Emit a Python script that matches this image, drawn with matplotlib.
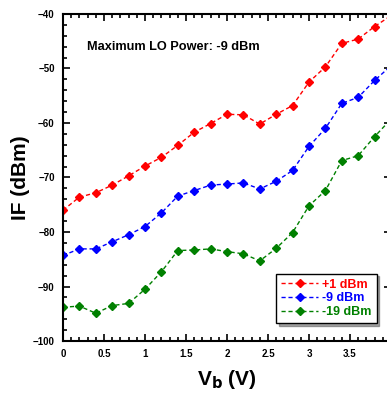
import matplotlib.pyplot as plt
import numpy as np
from matplotlib.ticker import MultipleLocator, FixedLocator, FormatStrFormatter

plt.rcParams['font.family'] = ['Liberation Sans', 'DejaVu Sans']

# bias voltage (V)
vb = [0.0, 0.2, 0.4, 0.6, 0.8, 1.0, 1.2, 1.4, 1.6, 1.8, 2.0,
      2.2, 2.4, 2.6, 2.8, 3.0, 3.2, 3.4, 3.6, 3.8, 4.0]

# IF power (dBm) for each LO power
if_p1 = [-76.0, -73.6, -72.8, -71.4, -69.7, -67.9, -66.3, -64.1, -61.7, -60.1, -58.4,
         -58.5, -60.2, -58.4, -56.8, -52.5, -49.7, -45.4, -44.6, -42.3, -40.3]
if_m9 = [-84.3, -83.1, -83.1, -81.8, -80.5, -79.0, -76.5, -73.4, -72.4, -71.4, -71.2,
         -71.0, -72.1, -70.7, -68.7, -64.3, -61.0, -56.4, -55.3, -52.2, -49.5]
if_m19 = [-93.8, -93.6, -94.9, -93.5, -93.1, -90.5, -87.3, -83.4, -83.3, -83.1, -83.6,
          -84.0, -85.3, -83.0, -80.1, -75.2, -72.4, -66.9, -66.0, -62.5, -59.3]

labels = ['+1 dBm', '-9 dBm', '-19 dBm']
colors = ['#ff0000', '#0000ff', '#008000']
xticks = [0, 0.5, 1, 1.5, 2, 2.5, 3, 3.5]

fig = plt.figure(figsize=(3.87, 3.94), dpi=100)
ax = fig.add_axes([0.1628, 0.1345, 0.8475, 0.830])

for y, lab, c in zip([if_p1, if_m9, if_m19], labels, colors):
    ax.plot(vb, y, linestyle=(0, (3, 2)), color=c, linewidth=1,
            marker='D', markersize=4.5, label=lab)

ax.set_xlim(0, 4)
ax.set_ylim(-100, -40)
ax.xaxis.set_major_locator(FixedLocator(xticks))
ax.xaxis.set_minor_locator(MultipleLocator(0.1))
ax.yaxis.set_major_locator(MultipleLocator(10))
ax.yaxis.set_minor_locator(MultipleLocator(2))
ax.xaxis.set_major_formatter(FormatStrFormatter('%g'))
ax.tick_params(which='both', direction='in', top=True, right=True, width=1.2)
ax.tick_params(which='major', length=5, labelsize=7, pad=6)
ax.tick_params(which='minor', length=3)
for lbl in ax.get_xticklabels() + ax.get_yticklabels():
    lbl.set_fontweight('bold')
for s in ax.spines.values():
    s.set_linewidth(1.5)

ax.set_ylabel('IF (dBm)', fontsize=15, fontweight='bold', labelpad=2)
ax.set_xlabel('V$_\\mathbf{b}$ (V)', fontsize=15, fontweight='bold', labelpad=6)

fig.text(0.225, 0.881, 'Maximum LO Power: -9 dBm', fontsize=9.2,
         fontweight='bold', va='center')

leg = ax.legend(loc='lower right', bbox_to_anchor=(0.975, 0.035), fontsize=9,
                frameon=True, shadow=True, fancybox=False, handlelength=3.0,
                borderpad=0.4, labelspacing=0.15, handletextpad=0.3)
leg.get_frame().set_edgecolor('black')
leg.get_frame().set_linewidth(1)
for t, c in zip(leg.get_texts(), colors):
    t.set_color(c)
    t.set_fontweight('bold')

fig.savefig('out.png', dpi=100)
